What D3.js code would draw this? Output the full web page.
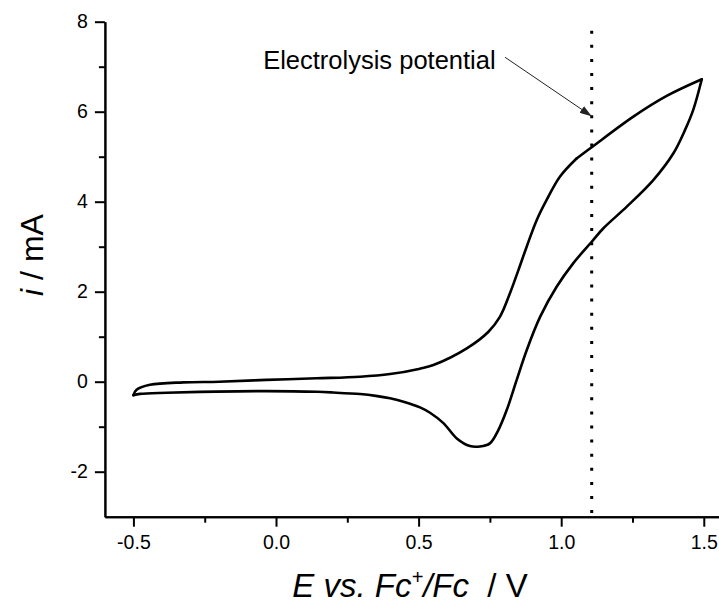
<!DOCTYPE html>
<html>
<head>
<meta charset="utf-8">
<script src="https://cdn.jsdelivr.net/npm/d3@7/dist/d3.min.js"></script>
<style>
  html, body { margin: 0; padding: 0; background: #fff; }
  svg { display: block; }
  text { font-family: "Liberation Sans", Arial, Helvetica, sans-serif; fill: #000; }
</style>
</head>
<body>
<svg id="chart" width="719" height="605"></svg>
<script>
// Cyclic voltammogram: forward (anodic) scan from -0.5 V up to 1.5 V, then reverse scan back.
const forwardE = [-0.5, -0.489, -0.442, -0.325, -0.2, -0.033, 0.143, 0.295, 0.4, 0.505, 0.552, 0.669, 0.745, 0.785, 0.82, 0.85, 0.879, 0.914, 0.949, 0.996, 1.054];
const forwardI = [-0.3, -0.18, -0.07, -0.015, 0.0, 0.04, 0.075, 0.11, 0.17, 0.29, 0.37, 0.74, 1.11, 1.44, 1.96, 2.48, 3.0, 3.59, 4.04, 4.56, 4.96];
const upperE = [1.054, 1.107, 1.253, 1.37, 1.493];
const upperI = [4.96, 5.21, 5.89, 6.35, 6.72];
const reverseE = [1.493, 1.463, 1.434, 1.393, 1.323, 1.23, 1.148, 1.107, 1.042, 0.984, 0.926, 0.879, 0.844, 0.809, 0.78, 0.75, 0.715, 0.68, 0.634, 0.587, 0.54, 0.505, 0.45, 0.4, 0.35, 0.295, 0.2, 0.143, -0.033, -0.21, -0.383, -0.477, -0.5];
const reverseI = [6.72, 6.04, 5.59, 5.07, 4.48, 3.89, 3.41, 3.11, 2.63, 2.11, 1.44, 0.70, 0.04, -0.63, -1.07, -1.37, -1.44, -1.43, -1.26, -0.92, -0.69, -0.57, -0.45, -0.37, -0.315, -0.275, -0.24, -0.225, -0.21, -0.22, -0.245, -0.27, -0.3];

// Electrolysis potential marker
const electrolysisE = 1.107;
const annotationText = "Electrolysis potential";

// Axis ticks
const xMajorTicks = [-0.5, 0.0, 0.5, 1.0, 1.5];
const xMinorTicks = [-0.25, 0.25, 0.75, 1.25];
const yMajorTicks = [-2, 0, 2, 4, 6, 8];
const yMinorTicks = [-1, 1, 3, 5, 7];

const svg = d3.select("#chart");
svg.append("rect").attr("width", 719).attr("height", 605).attr("fill", "#fff");

const x = d3.scaleLinear().domain([-0.6, 1.6]).range([104.9, 732.3]);
const y = d3.scaleLinear().domain([-3, 8]).range([516.7, 21.7]);

// Axes
function styleAxis(g) {
  g.select(".domain").attr("stroke", "#000").attr("stroke-width", 2);
  g.selectAll(".tick line").attr("stroke", "#000").attr("stroke-width", 2);
  g.selectAll(".tick text").attr("font-size", 19.5).attr("fill", "#000")
    .attr("font-family", '"Liberation Sans", Arial, sans-serif');
}

const xAxisMinor = svg.append("g").attr("transform", `translate(0,${y(-3)})`)
  .call(d3.axisBottom(x).tickValues(xMinorTicks).tickSize(6).tickSizeOuter(0).tickFormat(""));
styleAxis(xAxisMinor);
const xAxis = svg.append("g").attr("transform", `translate(0,${y(-3)})`)
  .call(d3.axisBottom(x).tickValues(xMajorTicks).tickSize(10).tickSizeOuter(0).tickPadding(8)
    .tickFormat(d => d.toFixed(1)));
styleAxis(xAxis);

const yAxisMinor = svg.append("g").attr("transform", `translate(${x(-0.6)},0)`)
  .call(d3.axisLeft(y).tickValues(yMinorTicks).tickSize(6).tickSizeOuter(0).tickFormat(""));
styleAxis(yAxisMinor);
const yAxis = svg.append("g").attr("transform", `translate(${x(-0.6)},0)`)
  .call(d3.axisLeft(y).tickValues(yMajorTicks).tickSize(10).tickSizeOuter(0).tickPadding(7)
    .tickFormat(d => String(d)));
styleAxis(yAxis);

// Axis titles
const xTitle = svg.append("text")
  .attr("x", 410).attr("y", 597)
  .attr("text-anchor", "middle")
  .attr("font-size", 33);
xTitle.append("tspan").attr("font-style", "italic").text("E vs. Fc");
xTitle.append("tspan").attr("font-style", "italic").attr("font-size", 20).attr("dy", -13).text("+");
xTitle.append("tspan").attr("font-style", "italic").attr("dy", 13).text("/Fc");
xTitle.append("tspan").text("\u00a0 / V");

const yTitle = svg.append("text")
  .attr("transform", "translate(43,255) rotate(-90)")
  .attr("text-anchor", "middle")
  .attr("font-size", 32);
yTitle.append("tspan").attr("font-style", "italic").text("i");
yTitle.append("tspan").text(" / mA");

// Dotted vertical line at the electrolysis potential
svg.append("line")
  .attr("x1", x(electrolysisE)).attr("x2", x(electrolysisE))
  .attr("y1", y(7.8)).attr("y2", y(-3))
  .attr("stroke", "#000").attr("stroke-width", 3)
  .attr("stroke-dasharray", "3 11.1");

// Voltammogram
const line = d3.line()
  .x(d => x(d[0])).y(d => y(d[1]))
  .curve(d3.curveCatmullRom.alpha(0.5));

const branches = [
  d3.zip(forwardE, forwardI),
  d3.zip(upperE, upperI),
  d3.zip(reverseE, reverseI)
];
svg.append("g").selectAll("path").data(branches).join("path")
  .attr("d", line)
  .attr("fill", "none")
  .attr("stroke", "#000")
  .attr("stroke-width", 2.6)
  .attr("stroke-linejoin", "round")
  .attr("stroke-linecap", "round");

// Annotation with arrow
const defs = svg.append("defs");
defs.append("marker")
  .attr("id", "arrowhead")
  .attr("viewBox", "0 0 12 8")
  .attr("refX", 12).attr("refY", 4)
  .attr("markerWidth", 12).attr("markerHeight", 8)
  .attr("markerUnits", "userSpaceOnUse")
  .attr("orient", "auto")
  .append("path").attr("d", "M0,0 L12,4 L0,8 Z").attr("fill", "#222");

svg.append("line")
  .attr("x1", x(0.803)).attr("y1", y(7.21))
  .attr("x2", x(1.107)).attr("y2", y(5.9))
  .attr("stroke", "#222").attr("stroke-width", 1)
  .attr("marker-end", "url(#arrowhead)");

svg.append("text")
  .attr("x", x(-0.045)).attr("y", y(6.94))
  .attr("font-size", 25.5)
  .text(annotationText);
</script>
</body>
</html>
